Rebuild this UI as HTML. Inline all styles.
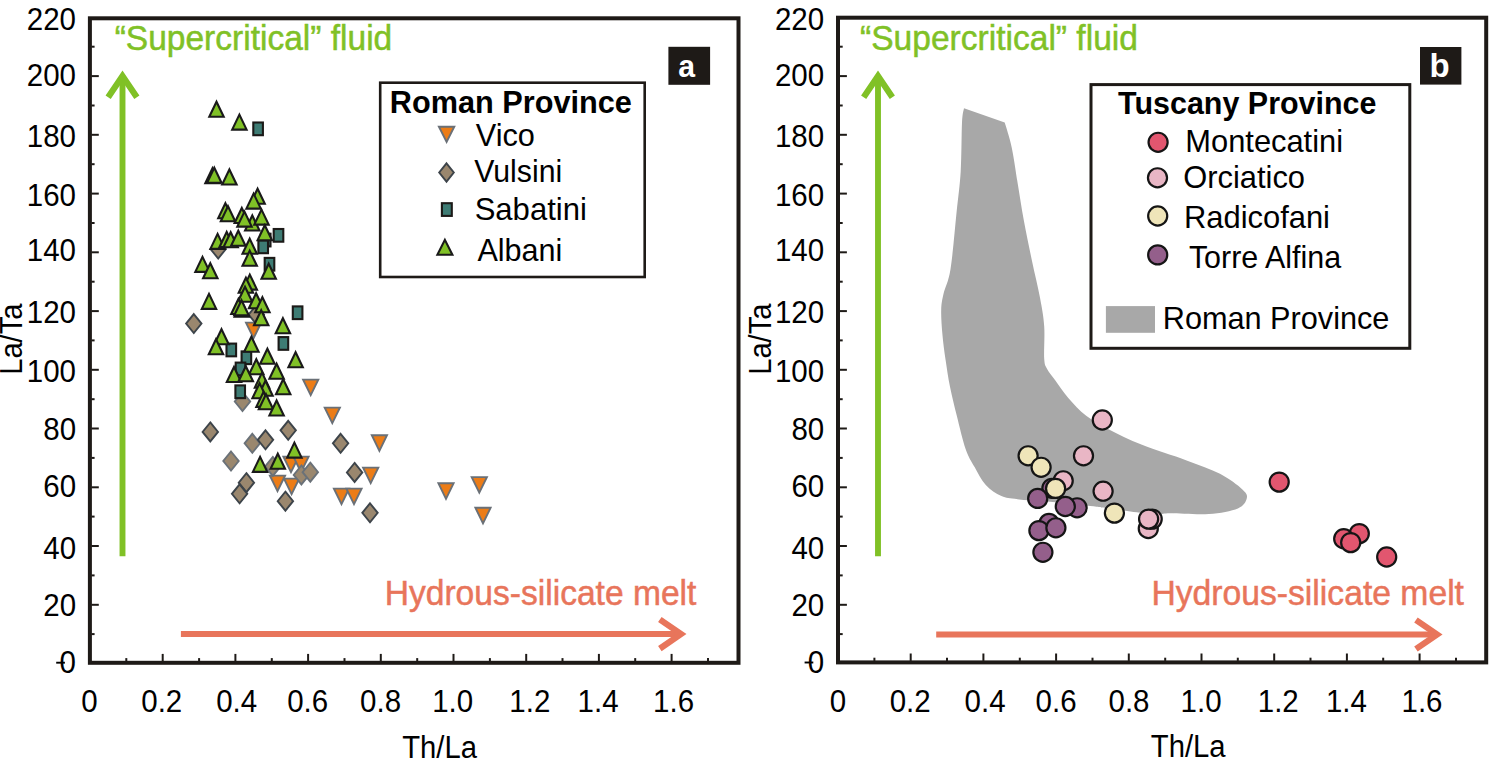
<!DOCTYPE html>
<html><head><meta charset="utf-8"><title>La/Ta vs Th/La</title><style>
html,body{margin:0;padding:0;background:#fff;width:1491px;height:762px;overflow:hidden}
svg{display:block}
text{font-family:"Liberation Sans", sans-serif;}
</style></head><body>
<svg width="1491" height="762" viewBox="0 0 1491 762">
<rect width="1491" height="762" fill="#fff"/>
<path d="M964.0 108.3L1004.7 122.6C1005.9 126.7 1009.4 136.8 1011.6 147.0C1013.8 157.2 1015.7 171.4 1017.7 183.6C1019.7 195.8 1021.4 207.4 1023.8 220.3C1026.2 233.2 1029.3 248.1 1032.0 261.0C1034.7 273.9 1038.0 286.8 1040.0 297.7C1042.0 308.6 1043.5 316.0 1044.2 326.2C1044.9 336.4 1043.7 351.6 1044.2 358.7C1044.7 365.8 1045.3 365.3 1047.1 368.9C1048.9 372.4 1051.5 375.2 1055.0 380.0C1058.5 384.8 1063.1 391.9 1068.3 397.9C1073.5 403.9 1079.5 410.6 1086.2 415.8C1092.9 421.0 1099.2 424.4 1108.5 429.2C1117.8 434.0 1129.0 439.6 1142.0 444.8C1155.0 450.0 1173.6 455.6 1186.6 460.4C1199.6 465.2 1210.7 469.0 1220.0 473.8C1229.3 478.6 1237.9 485.3 1242.4 489.4C1246.9 493.5 1247.5 495.1 1246.8 498.3C1246.0 501.5 1244.2 505.8 1237.9 508.4C1231.6 511.0 1220.2 513.2 1208.9 514.0C1197.6 514.8 1179.3 513.3 1170.0 513.3C1160.7 513.3 1163.3 514.8 1153.1 514.0C1142.8 513.2 1117.9 509.6 1108.5 508.4C1099.1 507.2 1104.0 507.7 1096.6 506.8C1089.2 505.9 1076.8 504.0 1063.9 502.8C1051.0 501.6 1029.6 500.5 1019.2 499.4C1008.8 498.3 1007.0 498.5 1001.4 496.1C995.8 493.7 990.3 489.8 985.8 485.0C981.3 480.2 978.0 473.1 974.6 467.1C971.2 461.1 968.7 457.8 965.7 449.2C962.7 440.6 959.4 426.2 956.8 415.8C954.2 405.4 951.9 396.1 950.0 386.8C948.1 377.5 946.9 368.8 945.6 360.0C944.3 351.2 943.1 342.7 942.4 334.3C941.7 325.9 941.0 316.7 941.2 309.9C941.4 303.1 942.1 300.4 943.6 293.6C945.1 286.8 948.3 282.8 950.5 269.2C952.7 255.6 954.9 228.3 956.6 212.0C958.3 195.7 959.8 186.3 960.7 171.4C961.6 156.5 961.5 133.1 962.0 122.6C962.5 112.1 963.7 110.7 964.0 108.3Z" fill="#a8a8a8"/>
<line x1="91.4" y1="634.1" x2="94.6" y2="634.1" stroke="#1e1a17" stroke-width="2"/>
<line x1="91.4" y1="604.8" x2="98.8" y2="604.8" stroke="#1e1a17" stroke-width="2"/>
<line x1="91.4" y1="575.4" x2="94.6" y2="575.4" stroke="#1e1a17" stroke-width="2"/>
<line x1="91.4" y1="546.0" x2="98.8" y2="546.0" stroke="#1e1a17" stroke-width="2"/>
<line x1="91.4" y1="516.6" x2="94.6" y2="516.6" stroke="#1e1a17" stroke-width="2"/>
<line x1="91.4" y1="487.3" x2="98.8" y2="487.3" stroke="#1e1a17" stroke-width="2"/>
<line x1="91.4" y1="457.9" x2="94.6" y2="457.9" stroke="#1e1a17" stroke-width="2"/>
<line x1="91.4" y1="428.5" x2="98.8" y2="428.5" stroke="#1e1a17" stroke-width="2"/>
<line x1="91.4" y1="399.2" x2="94.6" y2="399.2" stroke="#1e1a17" stroke-width="2"/>
<line x1="91.4" y1="369.8" x2="98.8" y2="369.8" stroke="#1e1a17" stroke-width="2"/>
<line x1="91.4" y1="340.4" x2="94.6" y2="340.4" stroke="#1e1a17" stroke-width="2"/>
<line x1="91.4" y1="311.1" x2="98.8" y2="311.1" stroke="#1e1a17" stroke-width="2"/>
<line x1="91.4" y1="281.7" x2="94.6" y2="281.7" stroke="#1e1a17" stroke-width="2"/>
<line x1="91.4" y1="252.3" x2="98.8" y2="252.3" stroke="#1e1a17" stroke-width="2"/>
<line x1="91.4" y1="223.0" x2="94.6" y2="223.0" stroke="#1e1a17" stroke-width="2"/>
<line x1="91.4" y1="193.6" x2="98.8" y2="193.6" stroke="#1e1a17" stroke-width="2"/>
<line x1="91.4" y1="164.2" x2="94.6" y2="164.2" stroke="#1e1a17" stroke-width="2"/>
<line x1="91.4" y1="134.8" x2="98.8" y2="134.8" stroke="#1e1a17" stroke-width="2"/>
<line x1="91.4" y1="105.5" x2="94.6" y2="105.5" stroke="#1e1a17" stroke-width="2"/>
<line x1="91.4" y1="76.1" x2="98.8" y2="76.1" stroke="#1e1a17" stroke-width="2"/>
<line x1="91.4" y1="46.7" x2="94.6" y2="46.7" stroke="#1e1a17" stroke-width="2"/>
<line x1="126.3" y1="661.3" x2="126.3" y2="658.1" stroke="#1e1a17" stroke-width="2"/>
<line x1="162.7" y1="661.3" x2="162.7" y2="653.9" stroke="#1e1a17" stroke-width="2"/>
<line x1="199.1" y1="661.3" x2="199.1" y2="658.1" stroke="#1e1a17" stroke-width="2"/>
<line x1="235.4" y1="661.3" x2="235.4" y2="653.9" stroke="#1e1a17" stroke-width="2"/>
<line x1="271.8" y1="661.3" x2="271.8" y2="658.1" stroke="#1e1a17" stroke-width="2"/>
<line x1="308.1" y1="661.3" x2="308.1" y2="653.9" stroke="#1e1a17" stroke-width="2"/>
<line x1="344.5" y1="661.3" x2="344.5" y2="658.1" stroke="#1e1a17" stroke-width="2"/>
<line x1="380.8" y1="661.3" x2="380.8" y2="653.9" stroke="#1e1a17" stroke-width="2"/>
<line x1="417.2" y1="661.3" x2="417.2" y2="658.1" stroke="#1e1a17" stroke-width="2"/>
<line x1="453.5" y1="661.3" x2="453.5" y2="653.9" stroke="#1e1a17" stroke-width="2"/>
<line x1="489.9" y1="661.3" x2="489.9" y2="658.1" stroke="#1e1a17" stroke-width="2"/>
<line x1="526.2" y1="661.3" x2="526.2" y2="653.9" stroke="#1e1a17" stroke-width="2"/>
<line x1="562.5" y1="661.3" x2="562.5" y2="658.1" stroke="#1e1a17" stroke-width="2"/>
<line x1="598.9" y1="661.3" x2="598.9" y2="653.9" stroke="#1e1a17" stroke-width="2"/>
<line x1="635.2" y1="661.3" x2="635.2" y2="658.1" stroke="#1e1a17" stroke-width="2"/>
<line x1="671.6" y1="661.3" x2="671.6" y2="653.9" stroke="#1e1a17" stroke-width="2"/>
<line x1="708.0" y1="661.3" x2="708.0" y2="658.1" stroke="#1e1a17" stroke-width="2"/>
<rect x="89.9" y="18.3" width="648.6" height="644.5" fill="none" stroke="#1e1a17" stroke-width="4.0"/>
<line x1="839.5" y1="634.1" x2="842.7" y2="634.1" stroke="#1e1a17" stroke-width="2"/>
<line x1="839.5" y1="604.8" x2="846.9" y2="604.8" stroke="#1e1a17" stroke-width="2"/>
<line x1="839.5" y1="575.4" x2="842.7" y2="575.4" stroke="#1e1a17" stroke-width="2"/>
<line x1="839.5" y1="546.0" x2="846.9" y2="546.0" stroke="#1e1a17" stroke-width="2"/>
<line x1="839.5" y1="516.6" x2="842.7" y2="516.6" stroke="#1e1a17" stroke-width="2"/>
<line x1="839.5" y1="487.3" x2="846.9" y2="487.3" stroke="#1e1a17" stroke-width="2"/>
<line x1="839.5" y1="457.9" x2="842.7" y2="457.9" stroke="#1e1a17" stroke-width="2"/>
<line x1="839.5" y1="428.5" x2="846.9" y2="428.5" stroke="#1e1a17" stroke-width="2"/>
<line x1="839.5" y1="399.2" x2="842.7" y2="399.2" stroke="#1e1a17" stroke-width="2"/>
<line x1="839.5" y1="369.8" x2="846.9" y2="369.8" stroke="#1e1a17" stroke-width="2"/>
<line x1="839.5" y1="340.4" x2="842.7" y2="340.4" stroke="#1e1a17" stroke-width="2"/>
<line x1="839.5" y1="311.1" x2="846.9" y2="311.1" stroke="#1e1a17" stroke-width="2"/>
<line x1="839.5" y1="281.7" x2="842.7" y2="281.7" stroke="#1e1a17" stroke-width="2"/>
<line x1="839.5" y1="252.3" x2="846.9" y2="252.3" stroke="#1e1a17" stroke-width="2"/>
<line x1="839.5" y1="223.0" x2="842.7" y2="223.0" stroke="#1e1a17" stroke-width="2"/>
<line x1="839.5" y1="193.6" x2="846.9" y2="193.6" stroke="#1e1a17" stroke-width="2"/>
<line x1="839.5" y1="164.2" x2="842.7" y2="164.2" stroke="#1e1a17" stroke-width="2"/>
<line x1="839.5" y1="134.8" x2="846.9" y2="134.8" stroke="#1e1a17" stroke-width="2"/>
<line x1="839.5" y1="105.5" x2="842.7" y2="105.5" stroke="#1e1a17" stroke-width="2"/>
<line x1="839.5" y1="76.1" x2="846.9" y2="76.1" stroke="#1e1a17" stroke-width="2"/>
<line x1="839.5" y1="46.7" x2="842.7" y2="46.7" stroke="#1e1a17" stroke-width="2"/>
<line x1="874.4" y1="660.9" x2="874.4" y2="657.7" stroke="#1e1a17" stroke-width="2"/>
<line x1="910.7" y1="660.9" x2="910.7" y2="653.5" stroke="#1e1a17" stroke-width="2"/>
<line x1="947.0" y1="660.9" x2="947.0" y2="657.7" stroke="#1e1a17" stroke-width="2"/>
<line x1="983.4" y1="660.9" x2="983.4" y2="653.5" stroke="#1e1a17" stroke-width="2"/>
<line x1="1019.8" y1="660.9" x2="1019.8" y2="657.7" stroke="#1e1a17" stroke-width="2"/>
<line x1="1056.1" y1="660.9" x2="1056.1" y2="653.5" stroke="#1e1a17" stroke-width="2"/>
<line x1="1092.5" y1="660.9" x2="1092.5" y2="657.7" stroke="#1e1a17" stroke-width="2"/>
<line x1="1128.8" y1="660.9" x2="1128.8" y2="653.5" stroke="#1e1a17" stroke-width="2"/>
<line x1="1165.2" y1="660.9" x2="1165.2" y2="657.7" stroke="#1e1a17" stroke-width="2"/>
<line x1="1201.5" y1="660.9" x2="1201.5" y2="653.5" stroke="#1e1a17" stroke-width="2"/>
<line x1="1237.8" y1="660.9" x2="1237.8" y2="657.7" stroke="#1e1a17" stroke-width="2"/>
<line x1="1274.2" y1="660.9" x2="1274.2" y2="653.5" stroke="#1e1a17" stroke-width="2"/>
<line x1="1310.5" y1="660.9" x2="1310.5" y2="657.7" stroke="#1e1a17" stroke-width="2"/>
<line x1="1346.9" y1="660.9" x2="1346.9" y2="653.5" stroke="#1e1a17" stroke-width="2"/>
<line x1="1383.2" y1="660.9" x2="1383.2" y2="657.7" stroke="#1e1a17" stroke-width="2"/>
<line x1="1419.6" y1="660.9" x2="1419.6" y2="653.5" stroke="#1e1a17" stroke-width="2"/>
<line x1="1456.0" y1="660.9" x2="1456.0" y2="657.7" stroke="#1e1a17" stroke-width="2"/>
<rect x="838.0" y="17.7" width="648.2" height="644.7" fill="none" stroke="#1e1a17" stroke-width="4.0"/>
<line x1="122.5" y1="556.2" x2="122.5" y2="79.1" stroke="#80c126" stroke-width="5.9"/><path d="M108.15 97.35L122.50 76.10L136.85 97.35" fill="none" stroke="#80c126" stroke-width="6.2" stroke-linejoin="miter" stroke-miterlimit="10"/>
<line x1="878.0" y1="556.2" x2="878.0" y2="79.1" stroke="#80c126" stroke-width="5.9"/><path d="M863.65 97.35L878.00 76.10L892.35 97.35" fill="none" stroke="#80c126" stroke-width="6.2" stroke-linejoin="miter" stroke-miterlimit="10"/>
<line x1="180.9" y1="634.05" x2="678.0" y2="634.05" stroke="#e8755b" stroke-width="6.0"/><path d="M659.85 619.50L681.00 634.05L659.85 648.60" fill="none" stroke="#e8755b" stroke-width="6.2" stroke-linejoin="miter" stroke-miterlimit="10"/>
<line x1="936.2" y1="634.5" x2="1434.1" y2="634.5" stroke="#e8755b" stroke-width="6.0"/><path d="M1415.95 619.95L1437.10 634.50L1415.95 649.05" fill="none" stroke="#e8755b" stroke-width="6.2" stroke-linejoin="miter" stroke-miterlimit="10"/>
<text transform="translate(114.66 50.00) scale(0.9581 1)" font-size="35.0" fill="#80c126" stroke="#80c126" stroke-width="0.5">“Supercritical” fluid</text>
<text transform="translate(860.06 50.00) scale(0.9591 1)" font-size="35.0" fill="#80c126" stroke="#80c126" stroke-width="0.5">“Supercritical” fluid</text>
<text transform="translate(384.71 604.90) scale(0.9597 1)" font-size="35.0" fill="#e8755b" stroke="#e8755b" stroke-width="0.5">Hydrous-silicate melt</text>
<text transform="translate(1151.40 604.90) scale(0.9625 1)" font-size="35.0" fill="#e8755b" stroke="#e8755b" stroke-width="0.5">Hydrous-silicate melt</text>
<g fill="#000">
<text transform="translate(26.84 30.46) scale(0.9450 1)" font-size="31.2">220</text>
<text transform="translate(26.84 85.66) scale(0.9450 1)" font-size="31.2">200</text>
<text transform="translate(26.84 147.36) scale(0.9450 1)" font-size="31.2">180</text>
<text transform="translate(26.84 206.16) scale(0.9450 1)" font-size="31.2">160</text>
<text transform="translate(26.84 261.26) scale(0.9450 1)" font-size="31.2">140</text>
<text transform="translate(26.84 322.66) scale(0.9450 1)" font-size="31.2">120</text>
<text transform="translate(26.84 381.76) scale(0.9450 1)" font-size="31.2">100</text>
<text transform="translate(43.35 440.16) scale(0.9450 1)" font-size="31.2">80</text>
<text transform="translate(43.35 496.96) scale(0.9450 1)" font-size="31.2">60</text>
<text transform="translate(43.35 558.86) scale(0.9450 1)" font-size="31.2">40</text>
<text transform="translate(43.35 616.46) scale(0.9450 1)" font-size="31.2">20</text>
<text transform="translate(59.57 673.36) scale(0.9450 1)" font-size="31.2">0</text>
<text transform="translate(774.94 30.46) scale(0.9450 1)" font-size="31.2">220</text>
<text transform="translate(774.94 85.66) scale(0.9450 1)" font-size="31.2">200</text>
<text transform="translate(774.94 147.36) scale(0.9450 1)" font-size="31.2">180</text>
<text transform="translate(774.94 206.16) scale(0.9450 1)" font-size="31.2">160</text>
<text transform="translate(774.94 261.26) scale(0.9450 1)" font-size="31.2">140</text>
<text transform="translate(774.94 322.66) scale(0.9450 1)" font-size="31.2">120</text>
<text transform="translate(774.94 381.76) scale(0.9450 1)" font-size="31.2">100</text>
<text transform="translate(791.45 440.16) scale(0.9450 1)" font-size="31.2">80</text>
<text transform="translate(791.45 496.96) scale(0.9450 1)" font-size="31.2">60</text>
<text transform="translate(791.45 558.86) scale(0.9450 1)" font-size="31.2">40</text>
<text transform="translate(791.45 616.46) scale(0.9450 1)" font-size="31.2">20</text>
<text transform="translate(807.67 673.36) scale(0.9450 1)" font-size="31.2">0</text>
<line x1="56.2" y1="662.7" x2="64.9" y2="662.7" stroke="#000" stroke-width="1.9"/>
<line x1="804.6" y1="662.5" x2="813.3" y2="662.5" stroke="#000" stroke-width="1.9"/>
<text transform="translate(81.34 712.40) scale(0.9450 1)" font-size="31.2">0</text>
<text transform="translate(141.26 712.40) scale(0.9450 1)" font-size="31.2">0.2</text>
<text transform="translate(216.16 712.40) scale(0.9450 1)" font-size="31.2">0.4</text>
<text transform="translate(287.21 712.40) scale(0.9450 1)" font-size="31.2">0.6</text>
<text transform="translate(360.11 712.40) scale(0.9450 1)" font-size="31.2">0.8</text>
<text transform="translate(432.22 712.40) scale(0.9450 1)" font-size="31.2">1.0</text>
<text transform="translate(509.37 712.40) scale(0.9450 1)" font-size="31.2">1.2</text>
<text transform="translate(577.57 712.40) scale(0.9450 1)" font-size="31.2">1.4</text>
<text transform="translate(653.12 712.40) scale(0.9450 1)" font-size="31.2">1.6</text>
<text transform="translate(829.74 712.40) scale(0.9450 1)" font-size="31.2">0</text>
<text transform="translate(889.66 712.40) scale(0.9450 1)" font-size="31.2">0.2</text>
<text transform="translate(964.56 712.40) scale(0.9450 1)" font-size="31.2">0.4</text>
<text transform="translate(1035.61 712.40) scale(0.9450 1)" font-size="31.2">0.6</text>
<text transform="translate(1108.51 712.40) scale(0.9450 1)" font-size="31.2">0.8</text>
<text transform="translate(1180.62 712.40) scale(0.9450 1)" font-size="31.2">1.0</text>
<text transform="translate(1257.77 712.40) scale(0.9450 1)" font-size="31.2">1.2</text>
<text transform="translate(1325.97 712.40) scale(0.9450 1)" font-size="31.2">1.4</text>
<text transform="translate(1401.52 712.40) scale(0.9450 1)" font-size="31.2">1.6</text>
<text transform="translate(402.21 757.60) scale(0.9316 1)" font-size="31.4">Th/La</text>
<text transform="translate(1150.81 756.90) scale(0.9316 1)" font-size="31.4">Th/La</text>
<text transform="translate(21.7 337.95) rotate(-90) scale(0.9405 1)" x="-39.22" font-size="31.0">La/Ta</text>
<text transform="translate(770.6 337.95) rotate(-90) scale(0.9405 1)" x="-39.22" font-size="31.0">La/Ta</text>
</g>
<rect x="668.4" y="46.8" width="41.7" height="38" fill="#1e1a17"/>
<text transform="translate(678.29 77.20) scale(0.9500 1)" font-size="31.8" font-weight="bold" fill="#fff">a</text>
<rect x="1420" y="47" width="41.4" height="37.6" fill="#1e1a17"/>
<text transform="translate(1429.44 77.00) scale(1.0000 1)" font-size="33" font-weight="bold" fill="#fff">b</text>
<rect x="380.2" y="82.7" width="264.5" height="194.3" fill="#fff" stroke="#1e1a17" stroke-width="2.6"/>
<text transform="translate(389.85 112.50) scale(0.9618 1)" font-size="31.9" font-weight="bold">Roman Province</text>
<text transform="translate(475.79 145.90) scale(0.9714 1)" font-size="31.6">Vico</text>
<text transform="translate(474.20 182.30) scale(0.9583 1)" font-size="31.6">Vulsini</text>
<text transform="translate(474.65 220.00) scale(0.9828 1)" font-size="31.6">Sabatini</text>
<text transform="translate(477.40 261.30) scale(0.9669 1)" font-size="31.6">Albani</text>
<path d="M438.9 126.8L454.3 126.8L446.6 142.0Z" fill="#ec7c16" stroke="#6a7077" stroke-width="1.9"/>
<path d="M446.5 163.3L453.8 172.5L446.5 181.7L439.2 172.5Z" fill="#9a876e" stroke="#3d444a" stroke-width="1.9"/>
<rect x="441.9" y="203.2" width="9.9" height="12.7" fill="#3e7c74" stroke="#1c1a18" stroke-width="2.1"/>
<path d="M444.9 239.9L452.4 254.8L437.4 254.8Z" fill="#80c126" stroke="#1a1a1a" stroke-width="2.1"/>
<rect x="1091" y="84.6" width="318.8" height="263.7" fill="#fff" stroke="#1e1a17" stroke-width="3"/>
<text transform="translate(1118.10 113.80) scale(0.9609 1)" font-size="31.7" font-weight="bold">Tuscany Province</text>
<text transform="translate(1185.33 152.00) scale(0.9761 1)" font-size="31.6">Montecatini</text>
<text transform="translate(1183.26 187.80) scale(0.9765 1)" font-size="31.6">Orciatico</text>
<text transform="translate(1183.93 227.70) scale(0.9784 1)" font-size="31.6">Radicofani</text>
<text transform="translate(1188.89 267.80) scale(0.9633 1)" font-size="31.6">Torre Alfina</text>
<text transform="translate(1162.74 329.10) scale(0.9711 1)" font-size="31.6">Roman Province</text>
<circle cx="1158.1" cy="142.3" r="9.55" fill="#e2566f" stroke="#151515" stroke-width="2.2"/>
<circle cx="1157.5" cy="177.8" r="9.55" fill="#e9b6c5" stroke="#151515" stroke-width="2.2"/>
<circle cx="1157.7" cy="216.0" r="9.55" fill="#efe5b9" stroke="#151515" stroke-width="2.2"/>
<circle cx="1157.7" cy="254.9" r="9.55" fill="#945f8b" stroke="#151515" stroke-width="2.2"/>
<rect x="1105.9" y="306.1" width="49.1" height="26.7" fill="#a8a8a8"/>
<path d="M246.0 322.6L261.2 322.6L253.6 338.2Z" fill="#ec7c16" stroke="#6a7077" stroke-width="1.9"/>
<path d="M324.7 407.6L339.9 407.6L332.3 423.2Z" fill="#ec7c16" stroke="#6a7077" stroke-width="1.9"/>
<path d="M303.1 379.6L318.3 379.6L310.7 395.2Z" fill="#ec7c16" stroke="#6a7077" stroke-width="1.9"/>
<path d="M371.8 435.2L387.0 435.2L379.4 450.8Z" fill="#ec7c16" stroke="#6a7077" stroke-width="1.9"/>
<path d="M363.1 467.6L378.3 467.6L370.7 483.2Z" fill="#ec7c16" stroke="#6a7077" stroke-width="1.9"/>
<path d="M333.9 488.6L349.1 488.6L341.5 504.2Z" fill="#ec7c16" stroke="#6a7077" stroke-width="1.9"/>
<path d="M346.4 488.6L361.6 488.6L354.0 504.2Z" fill="#ec7c16" stroke="#6a7077" stroke-width="1.9"/>
<path d="M438.4 483.3L453.6 483.3L446.0 498.9Z" fill="#ec7c16" stroke="#6a7077" stroke-width="1.9"/>
<path d="M471.7 477.1L486.9 477.1L479.3 492.7Z" fill="#ec7c16" stroke="#6a7077" stroke-width="1.9"/>
<path d="M475.4 507.8L490.6 507.8L483.0 523.4Z" fill="#ec7c16" stroke="#6a7077" stroke-width="1.9"/>
<path d="M283.4 456.6L298.6 456.6L291.0 472.2Z" fill="#ec7c16" stroke="#6a7077" stroke-width="1.9"/>
<path d="M293.4 456.6L308.6 456.6L301.0 472.2Z" fill="#ec7c16" stroke="#6a7077" stroke-width="1.9"/>
<path d="M269.9 475.6L285.1 475.6L277.5 491.2Z" fill="#ec7c16" stroke="#6a7077" stroke-width="1.9"/>
<path d="M284.0 478.6L299.2 478.6L291.6 494.2Z" fill="#ec7c16" stroke="#6a7077" stroke-width="1.9"/>
<path d="M193.8 314.1L201.5 323.6L193.8 333.1L186.1 323.6Z" fill="#9a876e" stroke="#3d444a" stroke-width="1.9"/>
<path d="M218.2 239.5L225.9 249.0L218.2 258.5L210.5 249.0Z" fill="#9a876e" stroke="#3d444a" stroke-width="1.9"/>
<path d="M256.3 305.1L264.0 314.6L256.3 324.1L248.6 314.6Z" fill="#9a876e" stroke="#3d444a" stroke-width="1.9"/>
<path d="M242.5 392.0L250.2 401.5L242.5 411.0L234.8 401.5Z" fill="#9a876e" stroke="#6a7178" stroke-width="1.9"/>
<path d="M210.3 422.4L218.0 431.9L210.3 441.4L202.6 431.9Z" fill="#9a876e" stroke="#3d444a" stroke-width="1.9"/>
<path d="M252.3 433.8L260.0 443.3L252.3 452.8L244.6 443.3Z" fill="#9a876e" stroke="#6a7178" stroke-width="1.9"/>
<path d="M265.5 430.3L273.2 439.8L265.5 449.3L257.8 439.8Z" fill="#9a876e" stroke="#3d444a" stroke-width="1.9"/>
<path d="M288.2 420.8L295.9 430.3L288.2 439.8L280.5 430.3Z" fill="#9a876e" stroke="#3d444a" stroke-width="1.9"/>
<path d="M231.0 451.5L238.7 461.0L231.0 470.5L223.3 461.0Z" fill="#9a876e" stroke="#6a7178" stroke-width="1.9"/>
<path d="M246.4 473.2L254.1 482.7L246.4 492.2L238.7 482.7Z" fill="#9a876e" stroke="#3d444a" stroke-width="1.9"/>
<path d="M239.6 484.3L247.3 493.8L239.6 503.3L231.9 493.8Z" fill="#9a876e" stroke="#3d444a" stroke-width="1.9"/>
<path d="M285.4 491.7L293.1 501.2L285.4 510.7L277.7 501.2Z" fill="#9a876e" stroke="#3d444a" stroke-width="1.9"/>
<path d="M272.8 456.9L280.5 466.4L272.8 475.9L265.1 466.4Z" fill="#9a876e" stroke="#6a7178" stroke-width="1.9"/>
<path d="M301.4 465.4L309.1 474.9L301.4 484.4L293.7 474.9Z" fill="#9a876e" stroke="#6a7178" stroke-width="1.9"/>
<path d="M310.3 462.7L318.0 472.2L310.3 481.7L302.6 472.2Z" fill="#9a876e" stroke="#6a7178" stroke-width="1.9"/>
<path d="M340.6 433.8L348.3 443.3L340.6 452.8L332.9 443.3Z" fill="#9a876e" stroke="#3d444a" stroke-width="1.9"/>
<path d="M354.6 462.9L362.3 472.4L354.6 481.9L346.9 472.4Z" fill="#9a876e" stroke="#3d444a" stroke-width="1.9"/>
<path d="M370.0 503.3L377.7 512.8L370.0 522.3L362.3 512.8Z" fill="#9a876e" stroke="#3d444a" stroke-width="1.9"/>
<rect x="253.3" y="122.5" width="9.6" height="12.7" fill="#3e7c74" stroke="#1c1a18" stroke-width="2.1"/>
<rect x="273.7" y="229.0" width="9.6" height="12.7" fill="#3e7c74" stroke="#1c1a18" stroke-width="2.1"/>
<rect x="260.9" y="233.7" width="9.6" height="12.7" fill="#3e7c74" stroke="#1c1a18" stroke-width="2.1"/>
<rect x="258.4" y="240.5" width="9.6" height="12.7" fill="#3e7c74" stroke="#1c1a18" stroke-width="2.1"/>
<rect x="264.7" y="257.9" width="9.6" height="12.7" fill="#3e7c74" stroke="#1c1a18" stroke-width="2.1"/>
<rect x="292.8" y="306.4" width="9.6" height="12.7" fill="#3e7c74" stroke="#1c1a18" stroke-width="2.1"/>
<rect x="278.6" y="337.1" width="9.6" height="12.7" fill="#3e7c74" stroke="#1c1a18" stroke-width="2.1"/>
<rect x="226.5" y="343.6" width="9.6" height="12.7" fill="#3e7c74" stroke="#1c1a18" stroke-width="2.1"/>
<rect x="241.6" y="351.4" width="9.6" height="12.7" fill="#3e7c74" stroke="#1c1a18" stroke-width="2.1"/>
<rect x="235.7" y="362.6" width="9.6" height="12.7" fill="#3e7c74" stroke="#1c1a18" stroke-width="2.1"/>
<rect x="235.4" y="385.4" width="9.6" height="12.7" fill="#3e7c74" stroke="#1c1a18" stroke-width="2.1"/>
<path d="M216.5 101.8L223.7 116.8L209.3 116.8Z" fill="#80c126" stroke="#1a1a1a" stroke-width="2.1"/>
<path d="M239.4 114.6L246.6 129.6L232.2 129.6Z" fill="#80c126" stroke="#1a1a1a" stroke-width="2.1"/>
<path d="M212.5 168.2L219.7 183.2L205.3 183.2Z" fill="#80c126" stroke="#1a1a1a" stroke-width="2.1"/>
<path d="M214.3 167.7L221.5 182.7L207.1 182.7Z" fill="#80c126" stroke="#1a1a1a" stroke-width="2.1"/>
<path d="M229.4 169.5L236.6 184.5L222.2 184.5Z" fill="#80c126" stroke="#1a1a1a" stroke-width="2.1"/>
<path d="M257.6 188.7L264.8 203.7L250.4 203.7Z" fill="#80c126" stroke="#1a1a1a" stroke-width="2.1"/>
<path d="M253.6 193.6L260.8 208.6L246.4 208.6Z" fill="#80c126" stroke="#1a1a1a" stroke-width="2.1"/>
<path d="M225.4 203.2L232.6 218.2L218.2 218.2Z" fill="#80c126" stroke="#1a1a1a" stroke-width="2.1"/>
<path d="M228.0 206.2L235.2 221.2L220.8 221.2Z" fill="#80c126" stroke="#1a1a1a" stroke-width="2.1"/>
<path d="M252.3 215.5L259.5 230.5L245.1 230.5Z" fill="#80c126" stroke="#1a1a1a" stroke-width="2.1"/>
<path d="M241.8 208.0L249.0 223.0L234.6 223.0Z" fill="#80c126" stroke="#1a1a1a" stroke-width="2.1"/>
<path d="M244.5 211.6L251.7 226.6L237.3 226.6Z" fill="#80c126" stroke="#1a1a1a" stroke-width="2.1"/>
<path d="M261.5 209.6L268.7 224.6L254.3 224.6Z" fill="#80c126" stroke="#1a1a1a" stroke-width="2.1"/>
<path d="M264.8 225.2L272.0 240.2L257.6 240.2Z" fill="#80c126" stroke="#1a1a1a" stroke-width="2.1"/>
<path d="M217.6 233.9L224.8 248.9L210.4 248.9Z" fill="#80c126" stroke="#1a1a1a" stroke-width="2.1"/>
<path d="M226.7 232.0L233.9 247.0L219.5 247.0Z" fill="#80c126" stroke="#1a1a1a" stroke-width="2.1"/>
<path d="M230.7 232.2L237.9 247.2L223.5 247.2Z" fill="#80c126" stroke="#1a1a1a" stroke-width="2.1"/>
<path d="M238.3 230.8L245.5 245.8L231.1 245.8Z" fill="#80c126" stroke="#1a1a1a" stroke-width="2.1"/>
<path d="M249.7 238.7L256.9 253.7L242.5 253.7Z" fill="#80c126" stroke="#1a1a1a" stroke-width="2.1"/>
<path d="M249.7 250.8L256.9 265.8L242.5 265.8Z" fill="#80c126" stroke="#1a1a1a" stroke-width="2.1"/>
<path d="M202.5 256.9L209.7 271.9L195.3 271.9Z" fill="#80c126" stroke="#1a1a1a" stroke-width="2.1"/>
<path d="M210.3 263.2L217.5 278.2L203.1 278.2Z" fill="#80c126" stroke="#1a1a1a" stroke-width="2.1"/>
<path d="M268.7 263.7L275.9 278.7L261.5 278.7Z" fill="#80c126" stroke="#1a1a1a" stroke-width="2.1"/>
<path d="M241.8 301.8L249.0 316.8L234.6 316.8Z" fill="#80c126" stroke="#1a1a1a" stroke-width="2.1"/>
<path d="M249.8 274.6L257.0 289.6L242.6 289.6Z" fill="#80c126" stroke="#1a1a1a" stroke-width="2.1"/>
<path d="M245.9 277.7L253.1 292.7L238.7 292.7Z" fill="#80c126" stroke="#1a1a1a" stroke-width="2.1"/>
<path d="M245.0 286.7L252.2 301.7L237.8 301.7Z" fill="#80c126" stroke="#1a1a1a" stroke-width="2.1"/>
<path d="M256.1 293.2L263.3 308.2L248.9 308.2Z" fill="#80c126" stroke="#1a1a1a" stroke-width="2.1"/>
<path d="M262.4 297.2L269.6 312.2L255.2 312.2Z" fill="#80c126" stroke="#1a1a1a" stroke-width="2.1"/>
<path d="M238.4 299.0L245.6 314.0L231.2 314.0Z" fill="#80c126" stroke="#1a1a1a" stroke-width="2.1"/>
<path d="M241.5 300.2L248.7 315.2L234.3 315.2Z" fill="#80c126" stroke="#1a1a1a" stroke-width="2.1"/>
<path d="M261.2 310.2L268.4 325.2L254.0 325.2Z" fill="#80c126" stroke="#1a1a1a" stroke-width="2.1"/>
<path d="M209.0 293.9L216.2 308.9L201.8 308.9Z" fill="#80c126" stroke="#1a1a1a" stroke-width="2.1"/>
<path d="M282.9 318.2L290.1 333.2L275.7 333.2Z" fill="#80c126" stroke="#1a1a1a" stroke-width="2.1"/>
<path d="M221.5 329.2L228.7 344.2L214.3 344.2Z" fill="#80c126" stroke="#1a1a1a" stroke-width="2.1"/>
<path d="M216.0 339.2L223.2 354.2L208.8 354.2Z" fill="#80c126" stroke="#1a1a1a" stroke-width="2.1"/>
<path d="M251.4 336.7L258.6 351.7L244.2 351.7Z" fill="#80c126" stroke="#1a1a1a" stroke-width="2.1"/>
<path d="M267.4 348.8L274.6 363.8L260.2 363.8Z" fill="#80c126" stroke="#1a1a1a" stroke-width="2.1"/>
<path d="M256.3 359.2L263.5 374.2L249.1 374.2Z" fill="#80c126" stroke="#1a1a1a" stroke-width="2.1"/>
<path d="M295.6 352.2L302.8 367.2L288.4 367.2Z" fill="#80c126" stroke="#1a1a1a" stroke-width="2.1"/>
<path d="M234.0 367.0L241.2 382.0L226.8 382.0Z" fill="#80c126" stroke="#1a1a1a" stroke-width="2.1"/>
<path d="M245.8 366.2L253.0 381.2L238.6 381.2Z" fill="#80c126" stroke="#1a1a1a" stroke-width="2.1"/>
<path d="M276.6 363.7L283.8 378.7L269.4 378.7Z" fill="#80c126" stroke="#1a1a1a" stroke-width="2.1"/>
<path d="M262.0 372.6L269.2 387.6L254.8 387.6Z" fill="#80c126" stroke="#1a1a1a" stroke-width="2.1"/>
<path d="M265.5 380.7L272.7 395.7L258.3 395.7Z" fill="#80c126" stroke="#1a1a1a" stroke-width="2.1"/>
<path d="M259.6 383.2L266.8 398.2L252.4 398.2Z" fill="#80c126" stroke="#1a1a1a" stroke-width="2.1"/>
<path d="M283.2 379.2L290.4 394.2L276.0 394.2Z" fill="#80c126" stroke="#1a1a1a" stroke-width="2.1"/>
<path d="M263.5 391.9L270.7 406.9L256.3 406.9Z" fill="#80c126" stroke="#1a1a1a" stroke-width="2.1"/>
<path d="M266.0 394.2L273.2 409.2L258.8 409.2Z" fill="#80c126" stroke="#1a1a1a" stroke-width="2.1"/>
<path d="M276.6 400.5L283.8 415.5L269.4 415.5Z" fill="#80c126" stroke="#1a1a1a" stroke-width="2.1"/>
<path d="M294.4 442.6L301.6 457.6L287.2 457.6Z" fill="#80c126" stroke="#1a1a1a" stroke-width="2.1"/>
<path d="M277.8 453.8L285.0 468.8L270.6 468.8Z" fill="#80c126" stroke="#1a1a1a" stroke-width="2.1"/>
<path d="M260.1 456.9L267.3 471.9L252.9 471.9Z" fill="#80c126" stroke="#1a1a1a" stroke-width="2.1"/>
<circle cx="1102.3" cy="420.0" r="9.55" fill="#e9b6c5" stroke="#151515" stroke-width="2.2"/>
<circle cx="1083.5" cy="455.8" r="9.55" fill="#e9b6c5" stroke="#151515" stroke-width="2.2"/>
<circle cx="1063.2" cy="480.8" r="9.55" fill="#e9b6c5" stroke="#151515" stroke-width="2.2"/>
<circle cx="1103.1" cy="491.2" r="9.55" fill="#e9b6c5" stroke="#151515" stroke-width="2.2"/>
<circle cx="1148.3" cy="528.5" r="9.55" fill="#e9b6c5" stroke="#151515" stroke-width="2.2"/>
<circle cx="1152.2" cy="519.1" r="9.55" fill="#e9b6c5" stroke="#151515" stroke-width="2.2"/>
<circle cx="1148.6" cy="519.1" r="9.55" fill="#e9b6c5" stroke="#151515" stroke-width="2.2"/>
<circle cx="1051.9" cy="488.3" r="9.55" fill="#945f8b" stroke="#151515" stroke-width="2.2"/>
<circle cx="1037.7" cy="498.4" r="9.55" fill="#945f8b" stroke="#151515" stroke-width="2.2"/>
<circle cx="1077.1" cy="507.8" r="9.55" fill="#945f8b" stroke="#151515" stroke-width="2.2"/>
<circle cx="1065.3" cy="506.5" r="9.55" fill="#945f8b" stroke="#151515" stroke-width="2.2"/>
<circle cx="1049.0" cy="523.4" r="9.55" fill="#945f8b" stroke="#151515" stroke-width="2.2"/>
<circle cx="1038.9" cy="530.6" r="9.55" fill="#945f8b" stroke="#151515" stroke-width="2.2"/>
<circle cx="1055.9" cy="527.8" r="9.55" fill="#945f8b" stroke="#151515" stroke-width="2.2"/>
<circle cx="1042.9" cy="552.3" r="9.55" fill="#945f8b" stroke="#151515" stroke-width="2.2"/>
<circle cx="1028.1" cy="455.8" r="9.55" fill="#efe5b9" stroke="#151515" stroke-width="2.2"/>
<circle cx="1041.1" cy="467.3" r="9.55" fill="#efe5b9" stroke="#151515" stroke-width="2.2"/>
<circle cx="1055.6" cy="488.4" r="9.55" fill="#efe5b9" stroke="#151515" stroke-width="2.2"/>
<circle cx="1114.4" cy="513.1" r="9.55" fill="#efe5b9" stroke="#151515" stroke-width="2.2"/>
<circle cx="1279.2" cy="482.1" r="9.55" fill="#e2566f" stroke="#151515" stroke-width="2.2"/>
<circle cx="1359.3" cy="533.6" r="9.55" fill="#e2566f" stroke="#151515" stroke-width="2.2"/>
<circle cx="1343.7" cy="538.7" r="9.55" fill="#e2566f" stroke="#151515" stroke-width="2.2"/>
<circle cx="1350.7" cy="542.6" r="9.55" fill="#e2566f" stroke="#151515" stroke-width="2.2"/>
<circle cx="1386.7" cy="557.0" r="9.55" fill="#e2566f" stroke="#151515" stroke-width="2.2"/>
</svg></body></html>
